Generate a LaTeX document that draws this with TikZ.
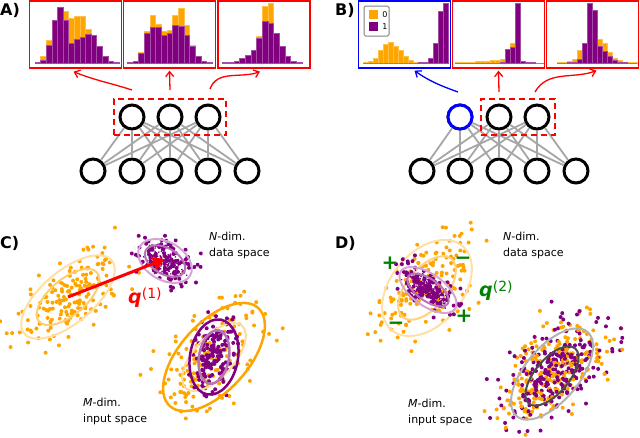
\documentclass[tikz,border=0pt]{standalone}
\usepackage{fontspec}
\setmainfont{DejaVu Sans}
\usepackage{tikz}
\usetikzlibrary{arrows.meta,fit}
\definecolor{orng}{HTML}{FFA500}
\definecolor{purp}{HTML}{800080}
\definecolor{grn}{HTML}{008000}
\tikzstyle{arrow} = [-{Straight Barb[length=5pt,width=8pt]},line width=1.3pt]
\tikzstyle{neuron} = [circle,draw,line width=3pt,minimum size=24pt,fill=white,inner sep=0pt]
\tikzstyle{link} = [gray!70,line width=1.8pt]
\tikzstyle{hbox} = [draw=red,line width=1.3pt,minimum width=92pt,minimum height=67pt,inner sep=0pt]
\tikzstyle{sel} = [draw=red,dash pattern=on 6pt off 4pt,line width=2.5pt,inner sep=4.5pt]
\tikzstyle{lbl} = [font=\fontsize{16}{16}\selectfont\bfseries,inner sep=0pt,anchor=base west]
\tikzstyle{dims} = [font=\fontsize{11}{13}\selectfont,inner sep=0pt,anchor=base west]
\tikzstyle{sign} = [text=grn,font=\fontsize{20}{20}\selectfont\bfseries,inner sep=0pt]
\tikzstyle{ring} = [line width=2pt]

% bars of a histogram: x0, bin width, heights, colour
\newcommand{\histbars}[4]{%
  \foreach \h [count=\k] in {#3}
    \fill[#4,draw=#4!70!white,line width=0.3pt] ({#1+(\k-1)*#2},-63) rectangle ++(#2,\h);}
% gaussian cloud of dots: seed, count, centre, sx, sy, angle, colour, radius
\newcommand{\dotcloud}[8]{%
  \pgfmathsetseed{#1}%
  \begin{scope}[shift={#3},rotate=#6]
    \foreach \k in {1,...,#2}{%
      \pgfmathsetmacro{\gx}{#4*(rand+rand+rand)}%
      \pgfmathsetmacro{\gy}{#5*(rand+rand+rand)}%
      \fill[#7] (\gx,\gy) circle (#8);}
  \end{scope}}

\begin{document}
\begin{tikzpicture}[x=1pt,y=1pt]
\useasboundingbox (0,0) rectangle (640,-437);

% A) histograms and network
\node[lbl] (la) at (0,-15) {A)};
\histbars{35}{5.6}{1,7,23,40,50,52,45,47,47,34,27,16,6,2,1}{orng}
\histbars{35}{5.6}{0.5,3,18,43,56,43,20,24,26,29,28,17,7,2,1}{purp}
\histbars{127}{5.67}{0.5,2,11,32,48,39,32,33,48,55,38,18,7,2,1}{orng}
\histbars{127}{5.67}{0.5,2,10,30,36,36,28,30,38,37,28,17,7,2,1}{purp}
\histbars{222.4}{5.67}{0.5,1,2,5,8,13,27,57,60,30,17,7,2,1}{orng}
\histbars{222.4}{5.67}{0.5,1,2,5,8,13,25,42,40,30,17,7,2,1}{purp}
\node[hbox] (hA1) at (75.5,-34.5) {};
\node[hbox] (hA2) at (169.5,-34.5) {};
\node[hbox] (hA3) at (264,-34.5) {};

\foreach \x [count=\i] in {132,170,208} \node[neuron] (ah\i) at (\x,-117) {};
\foreach \x [count=\i] in {93,132,170,208,247} \node[neuron] (ai\i) at (\x,-171) {};
\foreach \a in {1,2,3} \foreach \b in {1,...,5} \draw[link] (ah\a) -- (ai\b);
\node[sel,fit=(ah1)(ah3)] (asel) {};

\draw[arrow,red] ([yshift=27pt]ah1.center) to[out=162,in=-22] ([xshift=-2pt,yshift=-3pt]hA1.south);
\draw[arrow,red] ([yshift=27pt]ah2.center) -- ([yshift=-2pt]hA2.south);
\draw[arrow,red] ([xshift=2pt,yshift=28pt]ah3.center) to[out=70,in=200] ([xshift=-4pt,yshift=-3pt]hA3.south);

% B) histograms and network
\node[lbl] (lb) at (335,-15) {B)};
\histbars{363.3}{5}{1,2,5,13,19,21,17,13,7,3,1,0.5,0,0,0,0,0}{orng}
\histbars{363.3}{5}{0,0,0,0,0,0,0,0,0,0,0,0.5,1,5,20,52,60}{purp}
\histbars{455}{5}{0.5,0.5,1,1,1.5,2,2,2.5,3,3.5,5,20,8,1,0.5,0,0,0}{orng}
\histbars{455}{5}{0,0,0,0,0,0,0,0,0,0.5,14,16,60,2,1,0.5,0,0}{purp}
\histbars{557}{5}{0.5,1,2,4,13,18,50,45,24,20,11,5,3,1,1,0.5}{orng}
\histbars{557}{5}{0,0,0.5,1,4,20,60,53,17,12,7,3,1,0.5,0,0}{purp}
\node[hbox,draw=blue] (hB1) at (404.5,-34.5) {};
\node[hbox] (hB2) at (498.5,-34.5) {};
\node[hbox] (hB3) at (592.5,-34.5) {};
\draw[gray,line width=1pt,rounded corners=1.5pt] (364,-6) rectangle (389,-36);
\fill[orng] (369,-10) rectangle (378,-19);
\fill[purp] (369,-22) rectangle (378,-31);
\node[font=\fontsize{8}{8}\selectfont] (leg0) at (385,-15) {0};
\node[font=\fontsize{8}{8}\selectfont] (leg1) at (385,-26.5) {1};

\foreach \x [count=\i] in {460,499,537} \node[neuron] (bh\i) at (\x,-117) {};
\node[neuron,draw=blue] at (bh1) {};
\foreach \x [count=\i] in {422,460,499,537,576} \node[neuron] (bi\i) at (\x,-171) {};
\foreach \a in {1,2,3} \foreach \b in {1,...,5} \draw[link] (bh\a) -- (bi\b);
\node[sel,fit=(bh2)(bh3)] (bsel) {};

\draw[arrow,blue] ([xshift=-2pt,yshift=25pt]bh1.center) to[out=160,in=-35] ([xshift=10pt,yshift=-2pt]hB1.south);
\draw[arrow,red] ([yshift=25pt]bh2.center) -- ([yshift=-2pt]hB2.south);
\draw[arrow,red] ([xshift=-2pt,yshift=25pt]bh3.center) to[out=60,in=200] ([xshift=4pt,yshift=-2pt]hB3.south);

% C) data and input space
\node[lbl] (lc) at (0,-248) {C)};
\dotcloud{11}{170}{(68,-297)}{30}{15}{40}{orng}{2pt}
\draw[ring,orng!35] (68,-297) ellipse [x radius=57,y radius=26,rotate=40];
\draw[ring,orng!55] (68,-297) ellipse [x radius=38,y radius=18,rotate=40];
\dotcloud{12}{110}{(165,-260)}{17}{11}{-25}{purp}{2pt}
\dotcloud{13}{200}{(165,-262)}{10}{6}{-25}{purp}{0.9pt}
\draw[ring,purp!35] (165,-261) ellipse [x radius=29,y radius=19,rotate=-30];
\draw[ring,purp!55] (165,-261) ellipse [x radius=22,y radius=13,rotate=-30];
\coordinate (qs) at (68,-297);
\coordinate (qe) at (165,-259);
\draw[-{Triangle[length=12pt,width=13pt]},red,line width=3pt] (qs) -- (qe);
\node[text=red,inner sep=0pt,anchor=base west] (q1) at (128,-303)
  {\fontsize{19}{19}\selectfont\bfseries\itshape q\raisebox{5pt}{\fontsize{14}{14}\selectfont\upshape\mdseries(1)}};

\dotcloud{14}{150}{(214,-357)}{32}{18}{48}{orng}{2pt}
\dotcloud{15}{150}{(214,-357)}{17}{10}{80}{purp}{2pt}
\draw[ring,orng!40] (214,-357) ellipse [x radius=42,y radius=20,rotate=48];
\draw[ring,orng,line width=2.5pt] (214,-357) ellipse [x radius=66,y radius=34,rotate=48];
\draw[ring,purp,line width=2.5pt] (214,-357) ellipse [x radius=38,y radius=24,rotate=80];
\draw[ring,purp!55,line width=2.5pt] (214,-357) ellipse [x radius=27,y radius=15,rotate=80];

\node[dims] (cn1) at (209,-240) {\textit{N}-dim.};
\node[dims] (cn2) at (209,-256) {data space};
\node[dims] (cm1) at (83,-406) {\textit{M}-dim.};
\node[dims] (cm2) at (83,-422) {input space};

% D) data and input space
\node[lbl] (ld) at (335,-248) {D)};
\dotcloud{21}{160}{(427,-288)}{29}{18}{50}{orng}{2pt}
\draw[ring,orng!35] (427,-288) ellipse [x radius=55,y radius=36,rotate=50];
\draw[ring,orng!50] (427,-288) ellipse [x radius=38,y radius=20,rotate=50];
\dotcloud{22}{120}{(428,-290)}{17}{8}{-35}{purp}{2pt}
\dotcloud{23}{150}{(428,-290)}{11}{5}{-35}{purp}{0.9pt}
\draw[ring,purp!35] (428,-290) ellipse [x radius=33,y radius=16,rotate=-35];
\draw[ring,purp!55] (428,-290) ellipse [x radius=24,y radius=11,rotate=-35];
\node[sign] (p1) at (390,-263) {+};
\node[sign] (m1) at (463,-261) {−};
\node[sign] (p2) at (464,-316) {+};
\node[sign] (m2) at (396,-326) {−};
\node[text=grn,inner sep=0pt,anchor=base west] (q2) at (479,-296)
  {\fontsize{19}{19}\selectfont\bfseries\itshape q\raisebox{5pt}{\fontsize{14}{14}\selectfont\upshape\mdseries(2)}};

\dotcloud{31}{120}{(552,-372)}{32}{18}{45}{orng}{2pt}
\dotcloud{32}{120}{(552,-372)}{32}{18}{45}{purp}{2pt}
\dotcloud{33}{120}{(552,-372)}{32}{18}{45}{orng}{2pt}
\dotcloud{34}{120}{(552,-372)}{32}{18}{45}{purp}{2pt}
\draw[ring,gray!60] (552,-374) ellipse [x radius=55,y radius=27,rotate=50];
\draw[ring,black!70] (552,-376) ellipse [x radius=36,y radius=17,rotate=50];

\node[dims] (dn1) at (503,-240) {\textit{N}-dim.};
\node[dims] (dn2) at (503,-256) {data space};
\node[dims] (dm1) at (408,-407) {\textit{M}-dim.};
\node[dims] (dm2) at (408,-423) {input space};
\end{tikzpicture}
\end{document}
